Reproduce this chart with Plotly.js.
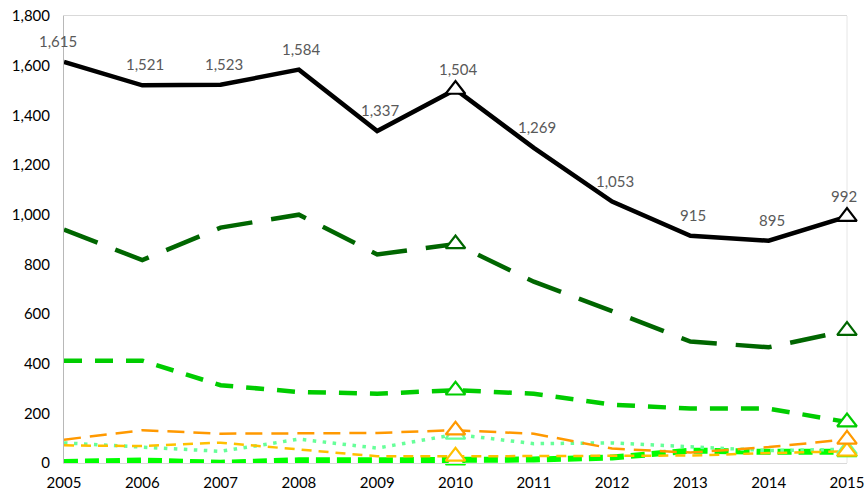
<!DOCTYPE html>
<html>
<head>
<meta charset="utf-8">
<script src="https://cdn.plot.ly/plotly-3.0.1.min.js"></script>
<style>html,body{margin:0;padding:0;background:#fff;}#chart{width:865px;height:495px;}</style>
</head>
<body>
<div id="chart"></div>
<script>
var years = [2005, 2006, 2007, 2008, 2009, 2010, 2011, 2012, 2013, 2014, 2015];
var total       = [1615, 1521, 1523, 1584, 1337, 1504, 1269, 1053, 915, 895, 992];
var darkGreen   = [940, 817, 948, 1000, 840, 882, 730, 612, 489, 466, 533];
var midGreen    = [412, 412, 313, 286, 279, 293, 279, 235, 219, 219, 165];
var orange      = [94, 132, 118, 120, 121, 132, 118, 58, 42, 64, 95];
var lightGreen  = [81, 64, 47, 96, 60, 115, 78, 81, 67, 50, 55];
var yellow      = [71, 68, 82, 55, 27, 27, 28, 31, 30, 40, 47];
var brightGreen = [4, 10, 1, 11, 11, 11, 14, 22, 50, 45, 45];
var markerYears = [2010, 2015];

var series = [
  {y: brightGreen, color: '#00FF00', width: 6,   dash: '14px,7px'},
  {y: lightGreen,  color: '#66FF99', width: 3.5, dash: '3.5px,6.5px'},
  {y: yellow,      color: '#FFC000', width: 2.5, dash: '10px,7px'},
  {y: orange,      color: '#FF9900', width: 2.5, dash: '17px,9px'},
  {y: midGreen,    color: '#00CC00', width: 4.5, dash: '18px,13px'},
  {y: darkGreen,   color: '#006600', width: 4.5, dash: '36px,19px'},
  {y: total,       color: '#000000', width: 4.5, dash: 'solid'}
];

var traces = [];
series.forEach(function (s) {
  traces.push({
    type: 'scatter', mode: 'lines', x: years, y: s.y,
    line: {color: s.color, width: s.width, dash: s.dash},
    cliponaxis: false, hoverinfo: 'skip', showlegend: false
  });
});
series.forEach(function (s) {
  traces.push({
    type: 'scatter', mode: 'markers',
    x: markerYears,
    y: markerYears.map(function (yr) { return s.y[years.indexOf(yr)]; }),
    marker: {symbol: 'triangle-up', size: 17, color: '#ffffff', line: {color: s.color, width: 2.2}},
    cliponaxis: false, hoverinfo: 'skip', showlegend: false
  });
});

var annotations = years.map(function (yr, i) {
  return {
    x: yr, y: total[i], xref: 'x', yref: 'y',
    text: total[i].toLocaleString('en-US'),
    showarrow: false, yshift: 21, xshift: (i === 0 ? -6 : (i === years.length - 1 ? -3 : 3)),
    font: {family: 'Lato, sans-serif', size: 15, color: '#595959'}
  };
});

var layout = {
  width: 865, height: 495,
  margin: {l: 64, r: 18, t: 16, b: 32},
  paper_bgcolor: '#ffffff', plot_bgcolor: '#ffffff',
  showlegend: false,
  font: {family: 'Lato, sans-serif', size: 15, color: '#000000'},
  xaxis: {
    range: [2005, 2015], tickmode: 'array', tickvals: years, ticktext: years.map(String),
    showgrid: false, zeroline: false,
    showline: true, linecolor: '#d9d9d9', linewidth: 1, mirror: true,
    ticks: '', ticklabelstandoff: 6,
    tickfont: {family: 'Lato, sans-serif', size: 15, color: '#000000'}
  },
  yaxis: {
    range: [0, 1800], dtick: 200, tickformat: ',d',
    showgrid: false, zeroline: false,
    showline: true, linecolor: '#b8b8b8', linewidth: 1,
    ticks: '', ticklabelstandoff: 10,
    tickfont: {family: 'Lato, sans-serif', size: 15, color: '#000000'}
  },
  shapes: [
    {type: 'line', xref: 'paper', yref: 'paper', x0: 1, x1: 1, y0: 0, y1: 1,
     line: {color: '#e6e6e6', width: 1}, layer: 'below'}
  ],
  annotations: annotations
};

Plotly.newPlot('chart', traces, layout, {displayModeBar: false, staticPlot: true});
</script>
</body>
</html>
